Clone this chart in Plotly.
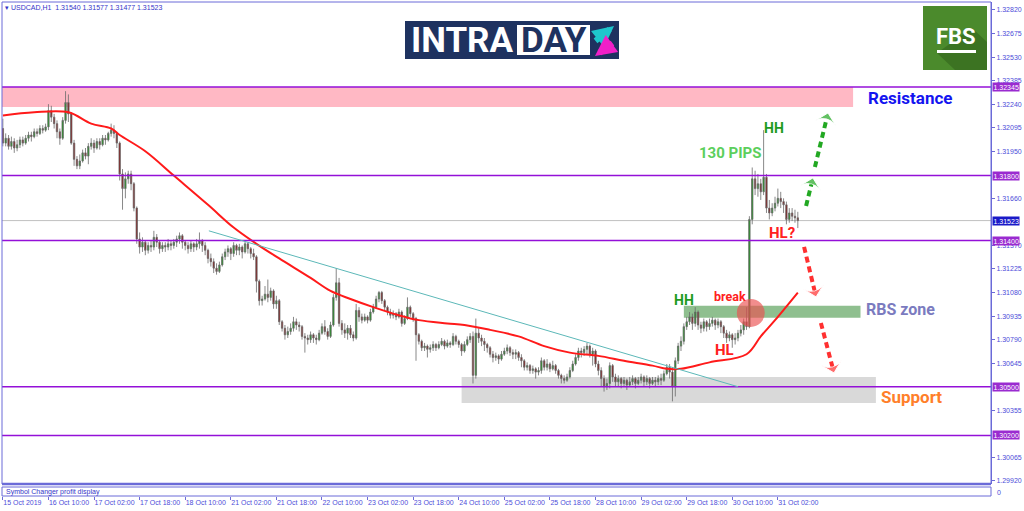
import plotly.graph_objects as go

# USDCAD H1 candles, bar 0 = 15 Oct 18:00 ... bar 279 = 31 Oct 08:00
first_open = 1.3209
closes = [
    1.3200, 1.3203, 1.3198, 1.3201, 1.3197, 1.3199, 1.3202, 1.3200, 1.3203, 1.3205,
    1.3204, 1.3207, 1.3206, 1.3209, 1.3208, 1.3210, 1.3220, 1.3216, 1.3212, 1.3207,
    1.3203, 1.3214, 1.3225, 1.3218, 1.3200, 1.3190, 1.3186, 1.3189, 1.3194, 1.3192,
    1.3198, 1.3200, 1.3197, 1.3201, 1.3199, 1.3203, 1.3202, 1.3206, 1.3208, 1.3206,
    1.3200, 1.3181, 1.3172, 1.3178, 1.3181, 1.3175, 1.3160, 1.3141, 1.3136, 1.3139,
    1.3134, 1.3137, 1.3136, 1.3142, 1.3139, 1.3135, 1.3137, 1.3136, 1.3138, 1.3137,
    1.3139, 1.3141, 1.3143, 1.3139, 1.3137, 1.3135, 1.3138, 1.3136, 1.3138, 1.3140,
    1.3137, 1.3134, 1.3129, 1.3127, 1.3123, 1.3121, 1.3125, 1.3130, 1.3133, 1.3135,
    1.3132, 1.3137, 1.3134, 1.3136, 1.3133, 1.3138, 1.3135, 1.3132, 1.3130, 1.3115,
    1.3103, 1.3104, 1.3107, 1.3105, 1.3109, 1.3101, 1.3103, 1.3090, 1.3086, 1.3082,
    1.3084, 1.3086, 1.3090, 1.3088, 1.3087, 1.3081, 1.3080, 1.3079, 1.3082, 1.3080,
    1.3079, 1.3083, 1.3087, 1.3084, 1.3081, 1.3088, 1.3105, 1.3114, 1.3089, 1.3085,
    1.3083, 1.3086, 1.3082, 1.3080, 1.3097, 1.3093, 1.3091, 1.3093, 1.3091, 1.3096,
    1.3099, 1.3104, 1.3108, 1.3103, 1.3099, 1.3096, 1.3094, 1.3095, 1.3093, 1.3096,
    1.3089, 1.3092, 1.3099, 1.3095, 1.3092, 1.3082, 1.3078, 1.3074, 1.3075, 1.3073,
    1.3074, 1.3076, 1.3074, 1.3076, 1.3078, 1.3075, 1.3077, 1.3076, 1.3081, 1.3078,
    1.3076, 1.3072, 1.3076, 1.3079, 1.3081, 1.3057, 1.3083, 1.3080, 1.3078, 1.3076,
    1.3074, 1.3070, 1.3068, 1.3069, 1.3067, 1.3070, 1.3072, 1.3074, 1.3071, 1.3070,
    1.3071, 1.3068, 1.3066, 1.3062, 1.3063, 1.3060, 1.3061, 1.3059, 1.3060, 1.3066,
    1.3062, 1.3064, 1.3061, 1.3063, 1.3060, 1.3057, 1.3055, 1.3054, 1.3056, 1.3060,
    1.3064, 1.3068, 1.3072, 1.3071, 1.3073, 1.3075, 1.3070, 1.3072, 1.3064, 1.3060,
    1.3055, 1.3050, 1.3052, 1.3063, 1.3056, 1.3053, 1.3055, 1.3052, 1.3054, 1.3051,
    1.3053, 1.3055, 1.3052, 1.3054, 1.3056, 1.3053, 1.3055, 1.3052, 1.3054, 1.3053,
    1.3055, 1.3054, 1.3058, 1.3062, 1.3059, 1.3050, 1.3066, 1.3075, 1.3078, 1.3087,
    1.3090, 1.3093, 1.3089, 1.3096, 1.3088, 1.3086, 1.3090, 1.3087, 1.3089, 1.3091,
    1.3088, 1.3090, 1.3087, 1.3083, 1.3080, 1.3082, 1.3079, 1.3080, 1.3083, 1.3085,
    1.3090, 1.3087, 1.3153, 1.3178, 1.3172, 1.3175, 1.3170, 1.3179, 1.3160, 1.3157,
    1.3160, 1.3163, 1.3166, 1.3164, 1.3162, 1.3153, 1.3157, 1.3155, 1.3154, 1.31523,
]
highs = [
    1.3215, 1.3206, 1.3205, 1.3204, 1.3203, 1.3202, 1.3204, 1.3204, 1.3205, 1.3207,
    1.3207, 1.3209, 1.3209, 1.3211, 1.3211, 1.3212, 1.3224, 1.3223, 1.3218, 1.3214,
    1.3209, 1.3216, 1.3232, 1.3230, 1.3219, 1.3202, 1.3192, 1.3193, 1.3196, 1.3197,
    1.3200, 1.3203, 1.3202, 1.3203, 1.3203, 1.3205, 1.3205, 1.3207, 1.3212, 1.3211,
    1.3207, 1.3201, 1.3184, 1.3182, 1.3183, 1.3183, 1.3176, 1.3161, 1.3145, 1.3142,
    1.3140, 1.3139, 1.3140, 1.3146, 1.3144, 1.3140, 1.3139, 1.3139, 1.3141, 1.3140,
    1.3141, 1.3143, 1.3145, 1.3144, 1.3140, 1.3139, 1.3140, 1.3139, 1.3141, 1.3145,
    1.3141, 1.3139, 1.3135, 1.3132, 1.3129, 1.3126, 1.3127, 1.3132, 1.3135, 1.3137,
    1.3136, 1.3139, 1.3138, 1.3138, 1.3137, 1.3140, 1.3139, 1.3136, 1.3135, 1.3131,
    1.3116, 1.3106, 1.3112, 1.3116, 1.3111, 1.3110, 1.3106, 1.3104, 1.3091, 1.3088,
    1.3087, 1.3089, 1.3093, 1.3092, 1.3090, 1.3088, 1.3083, 1.3082, 1.3084, 1.3083,
    1.3082, 1.3085, 1.3089, 1.3091, 1.3086, 1.3090, 1.3107, 1.3123, 1.3117, 1.3091,
    1.3089, 1.3088, 1.3088, 1.3084, 1.3101, 1.3099, 1.3095, 1.3095, 1.3094, 1.3098,
    1.3101, 1.3106, 1.3109, 1.3109, 1.3104, 1.3100, 1.3098, 1.3097, 1.3096, 1.3098,
    1.3097, 1.3094, 1.3105, 1.3100, 1.3096, 1.3093, 1.3083, 1.3079, 1.3077, 1.3076,
    1.3076, 1.3078, 1.3077, 1.3078, 1.3080, 1.3079, 1.3079, 1.3078, 1.3083, 1.3082,
    1.3079, 1.3077, 1.3078, 1.3081, 1.3083, 1.3084, 1.3092, 1.3086, 1.3082, 1.3080,
    1.3077, 1.3075, 1.3072, 1.3071, 1.3070, 1.3072, 1.3074, 1.3076, 1.3075, 1.3073,
    1.3073, 1.3072, 1.3070, 1.3067, 1.3065, 1.3064, 1.3063, 1.3062, 1.3062, 1.3068,
    1.3067, 1.3067, 1.3065, 1.3066, 1.3064, 1.3061, 1.3058, 1.3057, 1.3058, 1.3062,
    1.3066, 1.3070, 1.3074, 1.3074, 1.3075, 1.3077, 1.3076, 1.3074, 1.3073, 1.3066,
    1.3062, 1.3057, 1.3055, 1.3065, 1.3064, 1.3058, 1.3057, 1.3056, 1.3056, 1.3055,
    1.3056, 1.3057, 1.3056, 1.3056, 1.3058, 1.3057, 1.3057, 1.3056, 1.3056, 1.3056,
    1.3057, 1.3058, 1.3060, 1.3064, 1.3064, 1.3062, 1.3068, 1.3077, 1.3081, 1.3089,
    1.3093, 1.3096, 1.3095, 1.3099, 1.3097, 1.3090, 1.3092, 1.3091, 1.3092, 1.3093,
    1.3092, 1.3092, 1.3091, 1.3088, 1.3085, 1.3084, 1.3083, 1.3083, 1.3085, 1.3088,
    1.3092, 1.3099, 1.3155, 1.3185, 1.3183, 1.3181, 1.3178, 1.3208, 1.3181, 1.3165,
    1.3163, 1.3167, 1.3172, 1.3170, 1.3166, 1.3164, 1.3160, 1.3160, 1.3159, 1.31577,
]
lows = [
    1.3198, 1.3198, 1.3196, 1.3196, 1.3194, 1.3195, 1.3197, 1.3198, 1.3199, 1.3201,
    1.3201, 1.3203, 1.3204, 1.3205, 1.3206, 1.3207, 1.3208, 1.3213, 1.3209, 1.3203,
    1.3199, 1.3202, 1.3212, 1.3213, 1.3199, 1.3186, 1.3184, 1.3184, 1.3188, 1.3190,
    1.3187, 1.3196, 1.3194, 1.3196, 1.3196, 1.3198, 1.3199, 1.3201, 1.3204, 1.3203,
    1.3197, 1.3177, 1.3159, 1.3166, 1.3175, 1.3171, 1.3158, 1.3138, 1.3132, 1.3133,
    1.3131, 1.3132, 1.3133, 1.3134, 1.3136, 1.3132, 1.3133, 1.3133, 1.3134, 1.3134,
    1.3135, 1.3136, 1.3138, 1.3135, 1.3134, 1.3132, 1.3133, 1.3133, 1.3134, 1.3135,
    1.3133, 1.3131, 1.3126, 1.3124, 1.3120, 1.3119, 1.3120, 1.3124, 1.3128, 1.3130,
    1.3128, 1.3130, 1.3131, 1.3131, 1.3129, 1.3132, 1.3132, 1.3129, 1.3128, 1.3108,
    1.3100, 1.3100, 1.3103, 1.3102, 1.3103, 1.3098, 1.3098, 1.3088, 1.3084, 1.3079,
    1.3080, 1.3082, 1.3084, 1.3085, 1.3084, 1.3079, 1.3071, 1.3076, 1.3077, 1.3077,
    1.3076, 1.3078, 1.3082, 1.3082, 1.3079, 1.3080, 1.3087, 1.3103, 1.3087, 1.3082,
    1.3080, 1.3079, 1.3080, 1.3078, 1.3079, 1.3090, 1.3089, 1.3090, 1.3089, 1.3090,
    1.3095, 1.3098, 1.3102, 1.3101, 1.3097, 1.3094, 1.3092, 1.3092, 1.3091, 1.3092,
    1.3087, 1.3088, 1.3091, 1.3093, 1.3090, 1.3066, 1.3076, 1.3072, 1.3072, 1.3068,
    1.3071, 1.3072, 1.3072, 1.3073, 1.3075, 1.3073, 1.3074, 1.3074, 1.3075, 1.3076,
    1.3074, 1.3069, 1.3071, 1.3075, 1.3077, 1.3052, 1.3055, 1.3077, 1.3075, 1.3072,
    1.3071, 1.3068, 1.3065, 1.3066, 1.3064, 1.3066, 1.3069, 1.3070, 1.3069, 1.3067,
    1.3067, 1.3066, 1.3062, 1.3060, 1.3060, 1.3058, 1.3058, 1.3055, 1.3057, 1.3058,
    1.3060, 1.3060, 1.3059, 1.3060, 1.3058, 1.3055, 1.3052, 1.3052, 1.3053, 1.3055,
    1.3059, 1.3063, 1.3066, 1.3068, 1.3069, 1.3070, 1.3068, 1.3063, 1.3062, 1.3057,
    1.3050, 1.3047, 1.3048, 1.3049, 1.3053, 1.3050, 1.3050, 1.3049, 1.3050, 1.3048,
    1.3050, 1.3051, 1.3049, 1.3051, 1.3052, 1.3050, 1.3051, 1.3049, 1.3051, 1.3050,
    1.3051, 1.3051, 1.3053, 1.3057, 1.3055, 1.3041, 1.3044, 1.3064, 1.3072, 1.3076,
    1.3085, 1.3088, 1.3085, 1.3087, 1.3085, 1.3083, 1.3084, 1.3084, 1.3085, 1.3087,
    1.3085, 1.3086, 1.3083, 1.3080, 1.3077, 1.3078, 1.3074, 1.3076, 1.3078, 1.3081,
    1.3082, 1.3085, 1.3086, 1.3150, 1.3168, 1.3167, 1.3165, 1.3168, 1.3157, 1.3153,
    1.3155, 1.3158, 1.3161, 1.3160, 1.3157, 1.3150, 1.3151, 1.3152, 1.3151, 1.31477,
]
opens = [first_open] + closes[:-1]
bars = list(range(len(closes)))

# red moving average at a few bars
ma_bars = [0, 11, 23, 31, 38, 41, 50, 60, 72, 81, 89, 97, 108, 115, 122, 130, 139, 146,
           156, 162, 171, 181, 190, 199, 209, 218, 228, 233, 238, 248, 261, 266, 271, 279]
ma_vals = [1.3217, 1.3219, 1.3219, 1.3212, 1.3209, 1.3205, 1.3195, 1.3180, 1.3162, 1.3148,
           1.3138, 1.3129, 1.3117, 1.3109, 1.3104, 1.3099, 1.3094, 1.3091, 1.3089, 1.3088,
           1.3085, 1.3081, 1.3075, 1.3071, 1.3069, 1.3066, 1.3063, 1.3061, 1.3061, 1.3065,
           1.3070, 1.3081, 1.3091, 1.3108]

time_ticks = [0, 16, 32, 48, 64, 80, 96, 112, 128, 144, 160, 176, 192, 208, 224, 240, 256, 272]
time_labels = ['15 Oct 2019', '16 Oct 10:00', '17 Oct 02:00', '17 Oct 18:00', '18 Oct 10:00',
               '21 Oct 02:00', '21 Oct 18:00', '22 Oct 10:00', '23 Oct 02:00', '23 Oct 18:00',
               '24 Oct 10:00', '25 Oct 02:00', '25 Oct 18:00', '28 Oct 10:00', '29 Oct 02:00',
               '29 Oct 18:00', '30 Oct 10:00', '31 Oct 02:00']
price_ticks = [1.32820, 1.32675, 1.32530, 1.32385, 1.32240, 1.32095, 1.31950, 1.31660,
               1.31370, 1.31225, 1.31080, 1.30935, 1.30790, 1.30645, 1.30355, 1.30065, 1.29920]

levels = [1.32345, 1.31800, 1.31400, 1.30500, 1.30200]
last_price = 1.31523

resistance_zone = (1.32223, 1.32345)
rbs_zone = (1.30924, 1.30998)
support_zone = (1.30400, 1.30560)
trend_line = [(72.3, 1.3146), (258, 1.3050)]

AXIS = '#6b6bd8'
TXT = '#4d4dd9'


def px(x):
    return x / 1024


def py(y):
    return 1 - y / 511


fig = go.Figure()

fig.add_trace(go.Candlestick(
    x=bars, open=opens, high=highs, low=lows, close=closes,
    increasing=dict(line=dict(color='#6a6a6a', width=0.8), fillcolor='#1c9c1c'),
    decreasing=dict(line=dict(color='#6a6a6a', width=0.8), fillcolor='#8b1414'),
    hoverinfo='skip', showlegend=False))

fig.add_trace(go.Scatter(x=ma_bars, y=ma_vals, mode='lines', line=dict(color='#ff1a1a', width=2, shape='spline'),
                         hoverinfo='skip', showlegend=False))

# dashed scenario arrows
arrows = [
    ([281.9, 284.3], [1.31613, 1.31786], '#22a822'),
    ([285.0, 289.6], [1.31853, 1.32186], '#22a822'),
    ([281.2, 285.4], [1.31361, 1.31053], '#ff3030'),
    ([287.1, 291.7], [1.30893, 1.30585], '#ff3030'),
]
for ax_, ay_, col in arrows:
    fig.add_trace(go.Scatter(
        x=ax_, y=ay_, mode='lines+markers',
        line=dict(color=col, width=4, dash='6px,4px'),
        marker=dict(symbol='arrow-wide', size=[0, 15], angleref='previous', color=col),
        hoverinfo='skip', showlegend=False))

shapes = []
# zones
shapes.append(dict(type='rect', xref='x', yref='y', x0=-2, x1=298.4, y0=resistance_zone[0], y1=resistance_zone[1],
                   fillcolor='#ffb8c4', line=dict(width=0), layer='below'))
shapes.append(dict(type='rect', xref='x', yref='y', x0=239, x1=301, y0=rbs_zone[0], y1=rbs_zone[1],
                   fillcolor='#8fbf8f', line=dict(width=0), layer='below'))
shapes.append(dict(type='rect', xref='x', yref='y', x0=161, x1=306.4, y0=support_zone[0], y1=support_zone[1],
                   fillcolor='#d9d9d9', line=dict(width=0), layer='below'))
# levels
for lv in levels:
    shapes.append(dict(type='line', xref='x domain', yref='y', x0=0, x1=1, y0=lv, y1=lv,
                       line=dict(color='#9410d8', width=1.5)))
shapes.append(dict(type='line', xref='x domain', yref='y', x0=0, x1=1, y0=last_price, y1=last_price,
                   line=dict(color='#c0c0c0', width=1), layer='below'))
shapes.append(dict(type='line', xref='x', yref='y', x0=trend_line[0][0], y0=trend_line[0][1],
                   x1=trend_line[1][0], y1=trend_line[1][1], line=dict(color='#5cb8b8', width=1)))
# break circle
shapes.append(dict(type='circle', xref='x', yref='y', x0=262.5 - 4.9, x1=262.5 + 4.9,
                   y0=1.30954 - 0.00086, y1=1.30954 + 0.00086,
                   fillcolor='rgba(235,80,80,0.65)', line=dict(width=0)))
# window frames
shapes.append(dict(type='rect', xref='paper', yref='paper', x0=px(2), x1=px(991), y0=py(484), y1=py(2),
                   line=dict(color=AXIS, width=1)))
shapes.append(dict(type='line', xref='paper', yref='paper', x0=px(2), x1=px(991), y0=py(484), y1=py(484),
                   line=dict(color=AXIS, width=2.5)))
shapes.append(dict(type='rect', xref='paper', yref='paper', x0=px(2), x1=px(991), y0=py(496), y1=py(487),
                   line=dict(color=AXIS, width=1)))
# INTRADAY logo
shapes.append(dict(type='rect', xref='paper', yref='paper', x0=px(405), x1=px(619), y0=py(59), y1=py(21),
                   fillcolor='#1e3260', line=dict(width=0)))
shapes.append(dict(type='rect', xref='paper', yref='paper', x0=px(517), x1=px(590), y0=py(55), y1=py(25),
                   fillcolor='white', line=dict(width=0)))
# FBS logo
shapes.append(dict(type='rect', xref='paper', yref='paper', x0=px(923), x1=px(987), y0=py(70), y1=py(6),
                   fillcolor='#4b8a2c', line=dict(width=0)))
shapes.append(dict(type='path', xref='paper', yref='paper',
                   path=f'M {px(972)},{py(28)} L {px(987)},{py(42)} L {px(987)},{py(70)} L {px(955)},{py(70)} L {px(937)},{py(53)} Z',
                   fillcolor='#3c7322', line=dict(width=0)))
shapes.append(dict(type='rect', xref='paper', yref='paper', x0=px(937), x1=px(976), y0=py(53), y1=py(50),
                   fillcolor='white', line=dict(width=0)))

annotations = []
BOLD = 'Roboto'


def label(x, y, text, color, size):
    annotations.append(dict(x=x, y=y, xref='x', yref='y', text=f'<b>{text}</b>', showarrow=False,
                            xanchor='center', yanchor='middle',
                            font=dict(family=BOLD, size=size, color=color)))


def note(x, y, text, font, xanchor='left'):
    annotations.append(dict(x=px(x), y=py(y), xref='paper', yref='paper', text=text, showarrow=False,
                            xanchor=xanchor, yanchor='middle', font=font))


label(318.4, 1.32278, 'Resistance', '#1414f0', 17)
label(315.2, 1.30973, 'RBS zone', '#7b7bbf', 16)
label(319.0, 1.30437, 'Support', '#ff7f2a', 17)
label(255.2, 1.31940, '130 PIPS', '#5ccf5c', 15)
label(270.6, 1.32093, 'HH', '#1e9b1e', 14)
label(239.0, 1.31034, 'HH', '#1e9b1e', 14)
label(255.2, 1.31053, 'break', '#ff2020', 12.5)
label(253.1, 1.30727, 'HL', '#ff2020', 15)
label(273.4, 1.31447, 'HL?', '#ff2020', 15)

# right price-label boxes
for lv in levels:
    annotations.append(dict(x=px(992), y=lv, xref='paper', yref='y', xanchor='left', yanchor='middle',
                            text=f'{lv:.5f}', showarrow=False, bgcolor='#9a2bd0', borderpad=0.5,
                            font=dict(family='Liberation Sans', size=7, color='white')))
annotations.append(dict(x=px(992), y=last_price, xref='paper', yref='y', xanchor='left', yanchor='middle',
                        text=f'{last_price:.5f}', showarrow=False, bgcolor='#1a1ac8', borderpad=0.5,
                        font=dict(family='Liberation Sans', size=7, color='white')))

small = dict(family='Liberation Sans', size=7, color='#3434c8')
note(3, 7, '▾ USDCAD,H1  1.31540 1.31577 1.31477 1.31523', small)
note(4, 492, 'Symbol Changer profit display', small)
note(995, 492, '0', dict(family='Liberation Sans', size=7, color=TXT))

# logo texts
note(409, 41, '<b>INTRA</b>', dict(family=BOLD, size=35, color='white'))
note(554, 41, '<b>DAY</b>', dict(family=BOLD, size=35, color='#1e3260'), xanchor='center')
note(956, 37, '<b>FBS</b>', dict(family=BOLD, size=22, color='white'), xanchor='center')
annotations.append(dict(x=px(614), y=py(26), ax=-20, ay=16, xref='paper', yref='paper',
                        text='', showarrow=True, arrowhead=2,
                        arrowsize=0.7, arrowwidth=6, arrowcolor='#1ec6cc'))
annotations.append(dict(x=px(595), y=py(56), ax=19, ay=-14, xref='paper', yref='paper',
                        text='', showarrow=True, arrowhead=2,
                        arrowsize=0.7, arrowwidth=6, arrowcolor='#f020c8'))

fig.update_layout(
    width=1024, height=511, autosize=False,
    margin=dict(l=0, r=0, t=0, b=0),
    paper_bgcolor='white', plot_bgcolor='white',
    showlegend=False, hovermode=False,
    shapes=shapes, annotations=annotations,
    xaxis=dict(domain=[px(2), px(991)], range=[-0.3, 346.8], anchor='free', position=py(496),
               rangeslider=dict(visible=False), showgrid=False, zeroline=False, showline=False,
               tickmode='array', tickvals=time_ticks, ticktext=time_labels, tickangle=0,
               ticks='outside', ticklen=3, tickcolor=AXIS, ticklabelposition='outside right',
               tickfont=dict(family='Liberation Sans', size=7, color=TXT)),
    yaxis=dict(domain=[py(484), py(2)], range=[1.29901, 1.32869], side='right',
               showgrid=False, zeroline=False, showline=True, linecolor=AXIS, linewidth=1,
               tickmode='array', tickvals=price_ticks, ticktext=[f'{v:.5f}' for v in price_ticks],
               ticks='outside', ticklen=3, tickcolor=AXIS,
               tickfont=dict(family='Liberation Sans', size=7, color=TXT)),
)

# page body margin would shift the figure by 8px
fig.write_html('out.html', config={'displayModeBar': False},
               post_script="document.body.style.margin='0';")
